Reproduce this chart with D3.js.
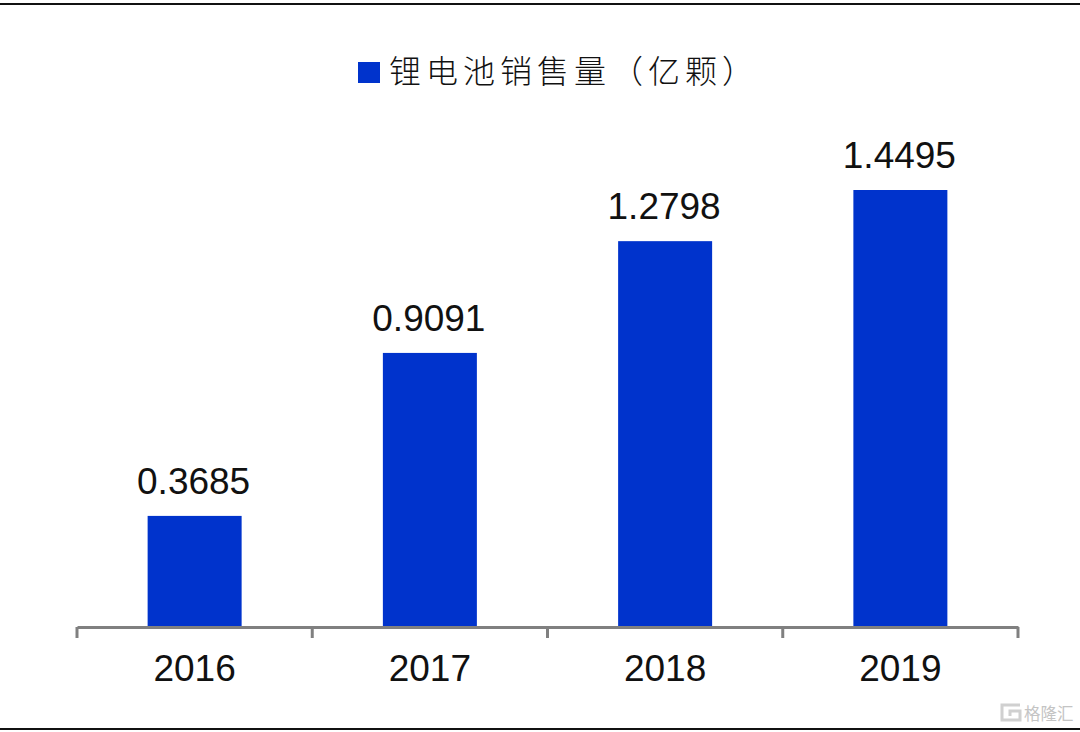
<!DOCTYPE html>
<html>
<head>
<meta charset="utf-8">
<script src="https://cdn.jsdelivr.net/npm/d3@7"></script>
<style>
  html, body { margin: 0; padding: 0; background: #fff; }
  svg { display: block; }
  text { font-family: "Liberation Sans", Arial, sans-serif; fill: #111; }
</style>
</head>
<body>
<svg id="chart"></svg>
<script>
const years = ["2016", "2017", "2018", "2019"];
const sales = [0.3685, 0.9091, 1.2798, 1.4495];
const legendLabel = "锂电池销售量（亿颗）";
const watermark = "格隆汇";

const width = 1080;
const height = 732;
const svg = d3.select("#chart").attr("width", width).attr("height", height);

const x = d3.scaleBand().domain(years).range([77, 1018]);
const y = d3.scaleLinear().domain([0, 1.4495]).range([627, 190]);
const barWidth = 94;

// top and bottom rules
svg.selectAll("line.rule")
  .data([4, 729])
  .join("line")
  .attr("class", "rule")
  .attr("x1", 0).attr("x2", width)
  .attr("y1", d => d).attr("y2", d => d)
  .attr("stroke", "#111")
  .attr("stroke-width", 2);

svg.selectAll("rect.bar")
  .data(years)
  .join("rect")
  .attr("class", "bar")
  .attr("x", d => x(d) + x.bandwidth() / 2 - barWidth / 2)
  .attr("width", barWidth)
  .attr("y", (d, i) => y(sales[i]))
  .attr("height", (d, i) => y(0) - y(sales[i]))
  .attr("fill", "#0033cc");

svg.selectAll("text.value")
  .data(years)
  .join("text")
  .attr("class", "value")
  .attr("x", d => x(d) + x.bandwidth() / 2 - 1)
  .attr("y", (d, i) => y(sales[i]) - 22)
  .attr("text-anchor", "middle")
  .attr("font-size", 37)
  .text((d, i) => sales[i].toFixed(4));

// axis with ticks on band edges
const axis = d3.axisBottom(x).tickSize(0).tickPadding(28);
const gx = svg.append("g").attr("transform", "translate(0,627)").call(axis);
gx.select(".domain").attr("stroke", "#808080").attr("stroke-width", 3);
gx.selectAll("text").attr("font-size", 37).attr("font-family", '"Liberation Sans", Arial, sans-serif').attr("fill", "#111");
gx.selectAll("line.edge")
  .data([...years.map(d => x(d)), x.range()[1]])
  .join("line")
  .attr("class", "edge")
  .attr("x1", d => d).attr("x2", d => d)
  .attr("y1", 0).attr("y2", 11)
  .attr("stroke", "#808080")
  .attr("stroke-width", 3);

// legend
svg.append("rect")
  .attr("x", 358).attr("y", 62)
  .attr("width", 22).attr("height", 21)
  .attr("fill", "#0033cc");
svg.append("text")
  .attr("x", 389).attr("y", 83)
  .attr("font-size", 32)
  .attr("letter-spacing", 5)
  .style("font-family", '"Noto Sans CJK SC"')
  .style("font-weight", 300)
  .text(legendLabel);

// watermark logo and name
svg.append("path")
  .attr("d", "M1020 705H1002V720H1020V711H1010V716")
  .attr("fill", "none")
  .attr("stroke", "#d0d0d0")
  .attr("stroke-width", 3);
svg.append("text")
  .attr("x", 1024).attr("y", 720)
  .attr("font-size", 16.5)
  .style("font-family", '"Noto Sans CJK SC"')
  .style("fill", "#c4c4c4")
  .text(watermark);
</script>
</body>
</html>
